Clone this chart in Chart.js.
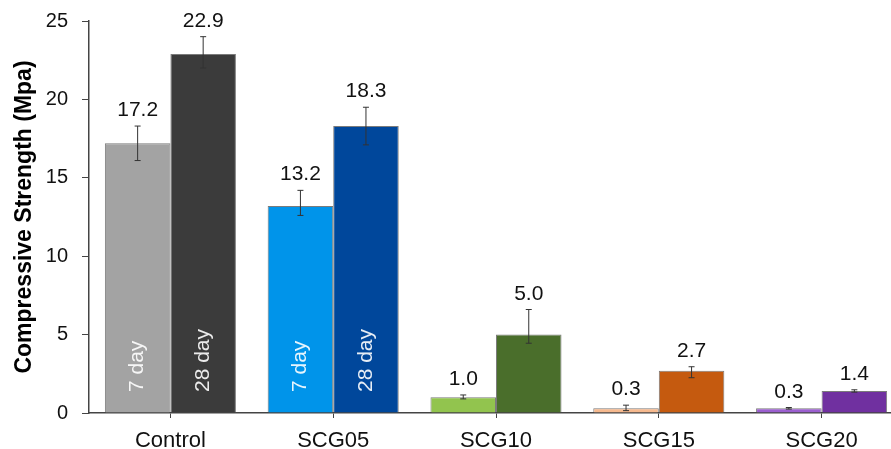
<!DOCTYPE html>
<html>
<head>
<meta charset="utf-8">
<script src="https://cdn.jsdelivr.net/npm/chart.js@4"></script>
<style>
  html, body { margin: 0; padding: 0; background: #fff; overflow: hidden; }
  #wrap { width: 903px; height: 449px; position: relative; }
</style>
</head>
<body>
<div id="wrap"><canvas id="chart"></canvas></div>
<script>
const categories = ['Control', 'SCG05', 'SCG10', 'SCG15', 'SCG20'];
const day7 = [17.2, 13.2, 1.0, 0.3, 0.3];
const day28 = [22.9, 18.3, 5.0, 2.7, 1.4];
// error bars (upper / lower extent)
const day7ErrUp = [1.1, 1.0, 0.15, 0.2, 0.05];
const day7ErrDown = [1.1, 0.6, 0.1, 0.15, 0.05];
const day28ErrUp = [1.1, 1.2, 1.6, 0.25, 0.08];
const day28ErrDown = [0.9, 1.2, 0.55, 0.45, 0.07];
const yTicks = [0, 5, 10, 15, 20, 25];

const day7Colors = ['#a3a3a3', '#0094ea', '#92c44e', '#f6b98e', '#9b5fcf'];
const day28Colors = ['#3b3b3b', '#00479b', '#4a6e2b', '#c55a0f', '#7030a0'];
// groups whose bars carry the rotated "7 day" / "28 day" text
const labelledGroups = [0, 1];

const FONT = '"Liberation Sans", Arial, sans-serif';
const AXIS = '#444';

const overlay = {
  id: 'overlay',
  afterDatasetsDraw(chart) {
    const ctx = chart.ctx;
    const y = chart.scales.y;
    chart.data.datasets.forEach((ds, di) => {
      const meta = chart.getDatasetMeta(di);
      meta.data.forEach((bar, i) => {
        const v = ds.data[i];
        const top = y.getPixelForValue(v + ds.errUp[i]);
        const bot = y.getPixelForValue(v - ds.errDown[i]);
        ctx.save();
        ctx.strokeStyle = '#333';
        ctx.lineWidth = 1;
        ctx.beginPath();
        ctx.moveTo(bar.x, top); ctx.lineTo(bar.x, bot);
        ctx.moveTo(bar.x - 3, top); ctx.lineTo(bar.x + 3, top);
        ctx.moveTo(bar.x - 3, bot); ctx.lineTo(bar.x + 3, bot);
        ctx.stroke();

        ctx.fillStyle = '#111';
        ctx.font = '21px ' + FONT;
        ctx.textAlign = 'center';
        ctx.textBaseline = 'alphabetic';
        ctx.fillText(v.toFixed(1), bar.x, top - 10);

        if (labelledGroups.includes(i)) {
          ctx.translate(bar.x, y.getPixelForValue(0) - 21);
          ctx.rotate(-Math.PI / 2);
          ctx.fillStyle = 'rgba(255,255,255,0.9)';
          ctx.textAlign = 'left';
          ctx.textBaseline = 'middle';
          ctx.fillText(ds.label, 0, 0);
        }
        ctx.restore();
      });
    });
  }
};

new Chart(document.getElementById('chart'), {
  type: 'bar',
  data: {
    labels: categories,
    datasets: [
      {
        label: '7 day',
        data: day7,
        errUp: day7ErrUp,
        errDown: day7ErrDown,
        backgroundColor: day7Colors,
        borderColor: 'rgba(90,90,90,0.8)',
        borderWidth: 1,
      },
      {
        label: '28 day',
        data: day28,
        errUp: day28ErrUp,
        errDown: day28ErrDown,
        backgroundColor: day28Colors,
        borderColor: 'rgba(90,90,90,0.8)',
        borderWidth: 1,
      },
    ],
  },
  options: {
    responsive: true,
    maintainAspectRatio: false,
    animation: false,
    layout: { padding: { top: 21, left: 0, right: 0, bottom: 0 } },
    datasets: { bar: { barPercentage: 1, categoryPercentage: 0.805 } },
    scales: {
      x: {
        grid: { display: true, drawOnChartArea: false, offset: false, tickLength: 5, color: AXIS, lineWidth: 1 },
        border: { display: true, color: AXIS, width: 1.5 },
        ticks: { color: '#111', font: { family: FONT, size: 22 }, padding: 10 },
        afterFit(scale) { scale.height = 36; },
      },
      y: {
        min: 0,
        max: 25,
        afterBuildTicks(scale) { scale.ticks = yTicks.map(v => ({ value: v })); },
        grid: { display: true, drawOnChartArea: false, tickLength: 7, color: AXIS, lineWidth: 1 },
        border: { display: true, color: AXIS, width: 1.5 },
        ticks: { color: '#111', font: { family: FONT, size: 20 }, padding: 14 },
        title: {
          display: true,
          text: 'Compressive Strength (Mpa)',
          color: '#000',
          font: { family: FONT, size: 23, weight: 'bold' },
          padding: { top: 11, bottom: 0 },
        },
        afterFit(scale) {
          scale.width = 89;
          scale.paddingTop = 10;
          scale.paddingBottom = 10;
        },
      },
    },
    plugins: {
      legend: { display: false },
      tooltip: { enabled: false },
    },
  },
  plugins: [overlay],
});
</script>
</body>
</html>
